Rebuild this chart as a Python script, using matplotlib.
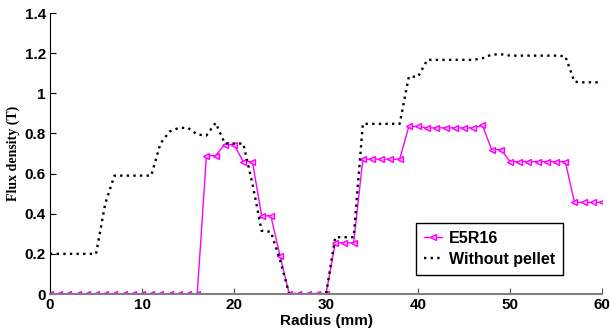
import matplotlib.pyplot as plt
from matplotlib.ticker import FormatStrFormatter, FuncFormatter

# radius positions (mm), one sample per mm
radius = list(range(0, 61))

# flux density with the E5R16 pellet (T)
e5r16 = [0, 0, 0, 0, 0, 0, 0, 0, 0, 0,
         0, 0, 0, 0, 0, 0, 0, 0.69, 0.69, 0.745,
         0.745, 0.66, 0.66, 0.39, 0.39, 0.19, 0, 0, 0, 0,
         0, 0.255, 0.255, 0.255, 0.672, 0.672, 0.672, 0.672, 0.672, 0.835,
         0.835, 0.828, 0.828, 0.828, 0.828, 0.828, 0.828, 0.84, 0.72, 0.72,
         0.66, 0.66, 0.66, 0.66, 0.66, 0.66, 0.66, 0.457, 0.457, 0.457,
         0.457]

# flux density without pellet (T)
no_pellet = [0.2, 0.2, 0.2, 0.2, 0.2, 0.2, 0.45, 0.59, 0.59, 0.59,
             0.59, 0.59, 0.75, 0.81, 0.828, 0.828, 0.795, 0.79, 0.853, 0.75,
             0.75, 0.75, 0.55, 0.315, 0.31, 0.17, 0, 0, 0, 0,
             0, 0.283, 0.283, 0.283, 0.848, 0.848, 0.848, 0.848, 0.848, 1.083,
             1.083, 1.167, 1.167, 1.167, 1.167, 1.167, 1.167, 1.175, 1.193, 1.195,
             1.188, 1.188, 1.188, 1.188, 1.188, 1.188, 1.185, 1.058, 1.055, 1.055,
             1.055]

xticks = [0, 10, 20, 30, 40, 50, 60]
yticks = [0, 0.2, 0.4, 0.6, 0.8, 1.0, 1.2, 1.4]

plt.rcParams['font.family'] = ['Liberation Sans', 'DejaVu Sans']

fig = plt.figure(figsize=(6.1, 3.36), dpi=100)
ax = fig.add_axes([0.082, 0.125, 0.905, 0.836])

ax.plot(radius, e5r16, color='#ff00ff', lw=1.0, marker='<', ms=5,
        mfc='#ffb3ff', mec='#ff00ff', mew=1.0, label='E5R16')
ax.plot(radius, no_pellet, color='black', lw=1.7, ls=(0, (1, 1.8)),
        label='Without pellet')

ax.set_xlim(0, 60)
ax.set_ylim(0, 1.4)
ax.set_xticks(xticks)
ax.set_yticks(yticks)
ax.yaxis.set_major_formatter(FuncFormatter(lambda v, p: '%g' % round(v, 1)))
ax.xaxis.set_major_formatter(FormatStrFormatter('%d'))

for s in ['top', 'right']:
    ax.spines[s].set_visible(False)
ax.spines['left'].set_color('black')
ax.spines['bottom'].set_color('#808080')
ax.spines['bottom'].set_linewidth(1.5)

ax.tick_params(axis='both', direction='in', length=4, labelsize=11, pad=3)
ax.tick_params(axis='x', color='#505050')
for t in ax.get_xticklabels() + ax.get_yticklabels():
    t.set_fontweight('bold')

ax.set_xlabel('Radius (mm)', fontsize=11, fontweight='bold', labelpad=1)
ax.set_ylabel('Flux density (T)', fontsize=10, fontweight='bold',
              family=['Liberation Serif', 'DejaVu Serif'], labelpad=3)

leg = ax.legend(loc='lower right', bbox_to_anchor=(0.929, 0.068),
                borderaxespad=0, fancybox=False, edgecolor='black',
                framealpha=1, prop={'weight': 'bold', 'size': 11.5},
                handlelength=1.1, handletextpad=0.45, borderpad=0.5,
                labelspacing=0.4, markerscale=0.8)
leg.get_frame().set_linewidth(1.0)

fig.savefig('out.png', dpi=100)
